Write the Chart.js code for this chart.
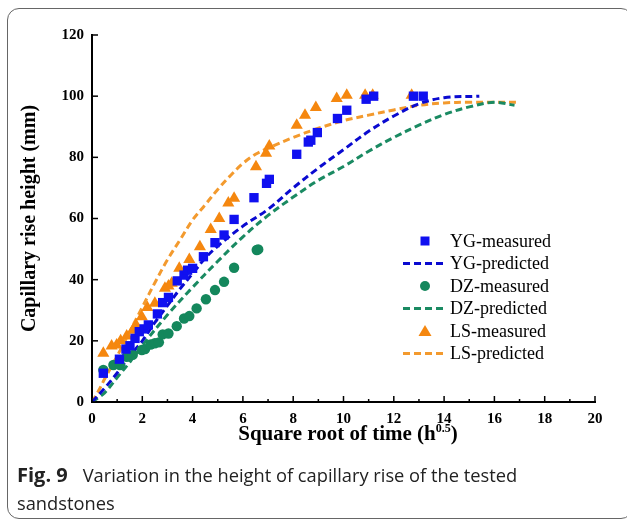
<!DOCTYPE html>
<html>
<head>
<meta charset="utf-8">
<script src="https://cdn.jsdelivr.net/npm/chart.js@4/dist/chart.umd.min.js"></script>
<style>
  html, body { margin: 0; padding: 0; background: #fff; }
  #wrap { position: relative; width: 627px; height: 519px; overflow: hidden; }
  #frame {
    position: absolute; left: 7px; top: 8px; width: 626px; height: 511px;
    border: 1.5px solid #666; border-radius: 12px; box-sizing: border-box;
  }
  #chartBox { position: absolute; left: 0; top: 0; width: 627px; height: 519px; }
  #xTitle {
    position: absolute; left: 92px; width: 512px; top: 421px; text-align: center;
    font-family: "Liberation Serif", serif; font-weight: bold; font-size: 21px; color: #000;
  }
  #xTitle sup { font-size: 12px; vertical-align: 8px; line-height: 0; }
  #caption {
    position: absolute; left: 17px; top: 461px; white-space: nowrap;
    font-family: "Open Sans", sans-serif; font-size: 18.3px; line-height: 28px; color: #222;
  }
  #caption b { font-weight: 700; font-size: 20px; margin-right: 15px; }
</style>
</head>
<body>
<div id="wrap">
  <div id="frame"></div>
  <div id="chartBox"><canvas id="capillary"></canvas></div>
  <div id="xTitle">Square root of time (h<sup>0.5</sup>)</div>
  <div id="caption"><b>Fig. 9</b>Variation in the height of capillary rise of the tested<br>sandstones</div>
</div>
<script>
// measured points (square root of time, height in mm)
const timeYG = [0.45, 1.09, 1.35, 1.51, 1.71, 1.88, 2.07, 2.24, 2.6, 2.81, 3.04, 3.39, 3.66, 3.8, 4.0, 4.43, 4.89, 5.25, 5.65, 6.44, 6.94, 7.05, 8.14, 8.6, 8.7, 8.96, 9.76, 10.13, 10.9, 11.2, 12.78, 13.17];
const heightYG = [9.4, 14, 17.3, 18.4, 20.8, 23, 23.9, 25.2, 28.8, 32.5, 34.2, 39.6, 41.5, 43.1, 43.7, 47.5, 52.1, 54.6, 59.7, 66.8, 71.5, 72.8, 81, 85, 85.6, 88.1, 92.7, 95.4, 99, 100, 100, 100];

const timeDZ = [0.45, 0.85, 1.11, 1.38, 1.62, 1.98, 2.11, 2.33, 2.5, 2.66, 2.81, 3.04, 3.37, 3.66, 3.87, 4.16, 4.53, 4.89, 5.25, 5.65, 6.55, 6.61];
const heightDZ = [10.5, 12.1, 12.1, 14.8, 15.4, 17, 17.3, 18.8, 19.2, 19.5, 22.1, 22.4, 24.8, 27.3, 28.1, 30.6, 33.6, 36.6, 39.3, 43.9, 49.7, 49.9];

const timeLS = [0.45, 0.78, 0.98, 1.14, 1.38, 1.62, 1.75, 1.98, 2.2, 2.5, 2.9, 3.04, 3.17, 3.47, 3.87, 4.29, 4.72, 5.06, 5.42, 5.65, 6.52, 6.92, 7.05, 8.14, 8.47, 8.9, 9.73, 10.13, 10.86, 11.16, 12.71];
const heightLS = [15.9, 18.3, 18.6, 20, 21.6, 23.5, 25.2, 27.9, 30.9, 32.3, 37.2, 37.9, 38.8, 43.7, 46.6, 50.8, 56.4, 60, 65.1, 66.6, 76.9, 81.3, 83.7, 90.5, 93.8, 96.3, 99.2, 100.3, 100.3, 100.3, 100.3];

// predicted curves
const predTimeYG = [0, 0.5, 1, 1.5, 2, 2.5, 3, 3.5, 4, 4.5, 5, 6, 7, 8, 9, 10, 11, 12, 13, 14, 15.4];
const predHeightYG = [0, 4.5, 9.5, 15, 20, 26, 31.5, 37, 42, 47, 51, 57.5, 63, 70, 76.5, 82.5, 88.5, 93.5, 97.5, 99.5, 100];

const predTimeDZ = [0, 0.5, 1, 1.5, 2, 3, 4, 5, 6, 7, 8, 9, 10, 11, 12, 13, 14, 15, 16, 16.8];
const predHeightDZ = [0, 3, 8, 13, 18.5, 28.5, 37.5, 46, 54, 61, 67, 72.5, 77, 82, 86.5, 90.5, 94, 96.5, 98, 97];

const predTimeLS = [0, 0.25, 0.5, 1, 1.5, 2, 2.5, 3, 3.5, 4, 4.5, 5, 5.5, 6, 6.5, 7, 8, 9, 10, 11, 12, 13, 14, 15, 16, 17];
const predHeightLS = [0, 3.5, 7.5, 15, 23, 31, 39, 46.5, 53, 59.5, 64.5, 69.5, 74, 78, 81, 83, 86.5, 89.5, 92, 93.8, 95.5, 97, 97.8, 98, 98, 98];

const xTicks = [0, 2, 4, 6, 8, 10, 12, 14, 16, 18, 20];
const yTicks = [0, 20, 40, 60, 80, 100, 120];

const blue = '#1010f0';
const green = '#14875c';
const orange = '#f5870f';

function toPoints(xs, ys) {
    return xs.map((x, i) => ({ x: x, y: ys[i] }));
}

function measured(label, xs, ys, color, style, radius) {
    return {
        label: label,
        data: toPoints(xs, ys),
        showLine: false,
        pointStyle: style,
        pointRadius: radius,
        pointHoverRadius: radius,
        pointBackgroundColor: color,
        pointBorderColor: color,
        pointBorderWidth: 0,
        backgroundColor: color,
        borderColor: color,
        order: 1
    };
}

function predicted(label, xs, ys, color) {
    return {
        label: label,
        data: toPoints(xs, ys),
        showLine: true,
        borderColor: color,
        backgroundColor: color,
        borderWidth: 3,
        borderDash: [7, 4],
        pointRadius: 0,
        tension: 0.35,
        order: 2
    };
}

const datasets = [
    measured('YG-measured', timeYG, heightYG, blue, 'rect', 6.6),
    predicted('YG-predicted', predTimeYG, predHeightYG, '#0a0ad0'),
    measured('DZ-measured', timeDZ, heightDZ, green, 'circle', 5.2),
    predicted('DZ-predicted', predTimeDZ, predHeightDZ, '#1a8a62'),
    measured('LS-measured', timeLS, heightLS, orange, 'triangle', 7),
    predicted('LS-predicted', predTimeLS, predHeightLS, '#f39a2e')
];

// ticks point into the plot, minor ticks on the x axis
const insideTicks = {
    id: 'insideTicks',
    afterDatasetsDraw(chart) {
        const ctx = chart.ctx;
        const xs = chart.scales.x;
        const ys = chart.scales.y;
        ctx.save();
        ctx.strokeStyle = '#000';
        ctx.lineWidth = 1.5;
        for (let v = xTicks[0]; v <= xTicks[xTicks.length - 1]; v++) {
            const px = xs.getPixelForValue(v);
            const len = xTicks.includes(v) ? 6 : 3;
            ctx.beginPath();
            ctx.moveTo(px, ys.bottom);
            ctx.lineTo(px, ys.bottom - len);
            ctx.stroke();
        }
        yTicks.forEach((v) => {
            const py = ys.getPixelForValue(v);
            ctx.beginPath();
            ctx.moveTo(xs.left, py);
            ctx.lineTo(xs.left + 6, py);
            ctx.stroke();
        });
        ctx.restore();
    }
};

// legend drawn inside the plot area
const innerLegend = {
    id: 'innerLegend',
    afterDraw(chart) {
        const ctx = chart.ctx;
        const area = chart.chartArea;
        const markX = area.left + 333;
        const textX = area.left + 358;
        let rowY = area.top + 206;
        ctx.save();
        ctx.font = '18px "Liberation Serif", serif';
        ctx.textBaseline = 'middle';
        ctx.fillStyle = '#000';
        chart.data.datasets.forEach((ds) => {
            if (ds.showLine) {
                ctx.strokeStyle = ds.borderColor;
                ctx.lineWidth = 3;
                ctx.setLineDash([7, 4]);
                ctx.beginPath();
                ctx.moveTo(markX - 22, rowY);
                ctx.lineTo(markX + 21, rowY);
                ctx.stroke();
                ctx.setLineDash([]);
            } else {
                ctx.fillStyle = ds.pointBackgroundColor;
                ctx.beginPath();
                if (ds.pointStyle === 'rect') {
                    ctx.rect(markX - 4.5, rowY - 4.5, 9, 9);
                } else if (ds.pointStyle === 'circle') {
                    ctx.arc(markX, rowY, 5, 0, Math.PI * 2);
                } else {
                    ctx.moveTo(markX, rowY - 6);
                    ctx.lineTo(markX + 6.5, rowY + 5);
                    ctx.lineTo(markX - 6.5, rowY + 5);
                    ctx.closePath();
                }
                ctx.fill();
            }
            ctx.fillStyle = '#000';
            ctx.fillText(ds.label, textX, rowY + 1);
            rowY += 22.5;
        });
        ctx.restore();
    }
};

const tickFont = { family: '"Liberation Serif", serif', size: 15, weight: 'bold' };

const config = {
    type: 'scatter',
    data: { datasets: datasets },
    options: {
        responsive: true,
        maintainAspectRatio: false,
        animation: false,
        layout: { padding: { left: 10, right: 32, top: 35, bottom: 0 } },
        plugins: {
            legend: { display: false },
            tooltip: { enabled: false }
        },
        scales: {
            x: {
                type: 'linear',
                min: 0,
                max: 20,
                afterBuildTicks: (scale) => { scale.ticks = xTicks.map((v) => ({ value: v })); },
                afterFit: (scale) => { scale.height = 117; },
                grid: { display: false, drawTicks: false },
                border: { display: true, color: '#000', width: 2 },
                ticks: { color: '#000', font: tickFont, padding: 8 },
                title: { display: false }
            },
            y: {
                type: 'linear',
                min: 0,
                max: 120,
                afterBuildTicks: (scale) => { scale.ticks = yTicks.map((v) => ({ value: v })); },
                afterFit: (scale) => { scale.width = 82; },
                grid: { display: false, drawTicks: false },
                border: { display: true, color: '#000', width: 2 },
                ticks: { color: '#000', font: tickFont, padding: 8 },
                title: {
                    display: true,
                    text: 'Capillary rise height (mm)',
                    color: '#000',
                    font: { family: '"Liberation Serif", serif', size: 20, weight: 'bold' },
                    padding: { top: 8, bottom: 0 }
                }
            }
        }
    },
    plugins: [insideTicks, innerLegend]
};

const chart = new Chart(document.getElementById('capillary'), config);
</script>
</body>
</html>
